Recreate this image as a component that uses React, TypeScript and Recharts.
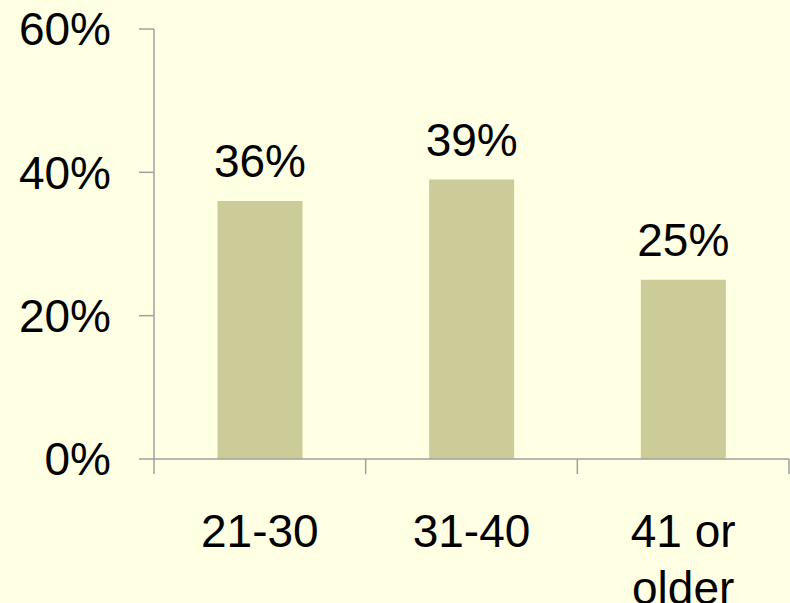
import React from "react";
import { BarChart, Bar, XAxis, YAxis, LabelList } from "recharts";

const categories = ["21-30", "31-40", "41 or\nolder"];
const shares = [0.36, 0.39, 0.25];
const yTicks = [0, 0.2, 0.4, 0.6];

const data = categories.map((c, i) => ({ name: c, value: shares[i] }));

const FONT = "'Liberation Sans', Arial, sans-serif";
const AXIS = "#A0A0A0";

const XTick = (props: any) => {
  const { x, y, payload, index, visibleTicksCount } = props;
  const off = payload.offset || 0;
  const lines = String(payload.value).split("\n");
  const isLast = index === visibleTicksCount - 1;
  return (
    <g>
      <line x1={x - off} x2={x - off} y1={y} y2={y + 15} stroke={AXIS} strokeWidth={1.5} />
      {isLast && (
        <line x1={x + off} x2={x + off} y1={y} y2={y + 15} stroke={AXIS} strokeWidth={1.5} />
      )}
      <text x={x} y={y + 88} textAnchor="middle" fontFamily={FONT} fontSize={46} fill="#000">
        {lines.map((l, i) => (
          <tspan key={i} x={x} dy={i === 0 ? 0 : 57}>
            {l}
          </tspan>
        ))}
      </text>
    </g>
  );
};

const BarLabel = (props: any) => {
  const { x, y, width, value } = props;
  return (
    <text x={x + width / 2} y={y - 24} textAnchor="middle" fontFamily={FONT} fontSize={46} fill="#000">
      {Math.round(value * 100) + "%"}
    </text>
  );
};

export default function App() {
  return (
    <div style={{ position: "absolute", left: 0, top: 0, width: 790, height: 603, background: "#FFFFE3" }}>
      <BarChart
        width={790}
        height={603}
        data={data}
        margin={{ top: 29, right: 1, left: 0, bottom: 0 }}
        barCategoryGap="30%"
      >
        <XAxis
          dataKey="name"
          type="category"
          height={144}
          tickSize={0}
          tickMargin={0}
          tickLine={false}
          axisLine={{ stroke: AXIS, strokeWidth: 1.5 }}
          tick={<XTick />}
          interval={0}
        />
        <YAxis
          type="number"
          domain={[0, 0.6]}
          ticks={yTicks}
          width={154}
          tickSize={15}
          tickMargin={28}
          axisLine={{ stroke: AXIS, strokeWidth: 1.5 }}
          tickLine={{ stroke: AXIS, strokeWidth: 1.5 }}
          tickFormatter={(v: number) => Math.round(v * 100) + "%"}
          tick={{ fontFamily: FONT, fontSize: 46, fill: "#000" }}
          allowDataOverflow
        />
        <Bar dataKey="value" fill="#CCCC99" isAnimationActive={false}>
          <LabelList dataKey="value" content={<BarLabel />} />
        </Bar>
      </BarChart>
    </div>
  );
}
